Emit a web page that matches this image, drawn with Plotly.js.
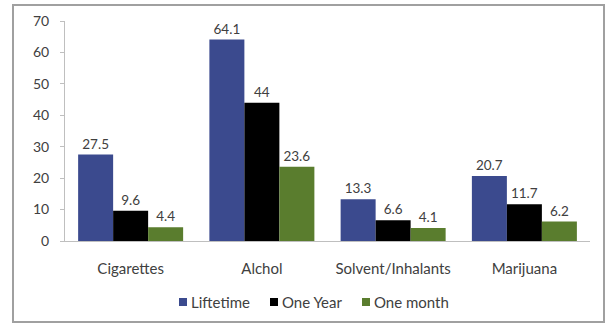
<!DOCTYPE html>
<html><head><meta charset="utf-8">
<script src="https://cdn.plot.ly/plotly-3.0.1.min.js"></script>
<style>html,body{margin:0;padding:0;background:#fff;}#c{width:607px;height:326px;}</style>
</head><body><div id="c"></div>
<script>
const categories = ["Cigarettes", "Alchol", "Solvent/Inhalants", "Marijuana"];
const lifetime = [27.5, 64.1, 13.3, 20.7];
const oneYear = [9.6, 44, 6.6, 11.7];
const oneMonth = [4.4, 23.6, 4.1, 6.2];
const seriesNames = ["Liftetime", "One Year", "One month"];
const colors = ["#3B4A8E", "#000000", "#5A7D2E"];
const yTicks = [0, 10, 20, 30, 40, 50, 60, 70];

const data = [lifetime, oneYear, oneMonth].map((vals, i) => ({
  type: 'bar', x: categories, y: vals, name: seriesNames[i],
  marker: {color: colors[i]},
  text: vals.map(String), textposition: 'outside', cliponaxis: false,
  textfont: {family: 'Lato, sans-serif', size: 13.5, color: '#404040'}
}));

const L = 65, R = 590, T = 21, B = 241;
const px = x => (x - L) / (R - L);
const py = y => (B - y) / (B - T);

// custom compact legend (small squares, tight text) like the reference
const legendX = [179, 270, 362];
const legendY = 302;
const shapes = [{type: 'rect', xref: 'paper', yref: 'paper', x0: px(13), x1: px(604), y0: py(322), y1: py(5),
            line: {color: '#A0A0A0', width: 2}, fillcolor: 'rgba(0,0,0,0)', layer: 'below'}];
const annotations = [];
seriesNames.forEach((n, i) => {
  shapes.push({type: 'rect', xref: 'paper', yref: 'paper',
    x0: px(legendX[i]), x1: px(legendX[i] + 8), y0: py(legendY + 4), y1: py(legendY - 4),
    fillcolor: colors[i], line: {width: 0}});
  annotations.push({xref: 'paper', yref: 'paper', x: px(legendX[i] + 10), y: py(legendY),
    xanchor: 'left', yanchor: 'middle', text: n, showarrow: false,
    font: {family: 'Lato, sans-serif', size: 15, color: '#404040'}});
});

const layout = {
  width: 607, height: 326,
  margin: {l: L, r: 607 - R, t: T, b: 326 - B},
  paper_bgcolor: '#fff', plot_bgcolor: '#fff',
  barmode: 'group', bargap: 0.2, bargroupgap: 0,
  font: {family: 'Lato, sans-serif', color: '#404040'},
  showlegend: false,
  xaxis: {showline: true, linecolor: '#BFBFBF', linewidth: 1, ticks: '',
          tickfont: {size: 15, color: '#404040'}, ticklabelstandoff: 14, fixedrange: true},
  yaxis: {range: [0, 70], tickvals: yTicks, showgrid: false, zeroline: false,
          showline: true, linecolor: '#BFBFBF', linewidth: 1, ticks: 'outside', ticklen: 4, tickcolor: '#BFBFBF',
          tickfont: {size: 14, color: '#404040'}, ticklabelstandoff: 8},
  shapes: shapes,
  annotations: annotations
};
Plotly.newPlot('c', data, layout, {staticPlot: true});
</script></body></html>
